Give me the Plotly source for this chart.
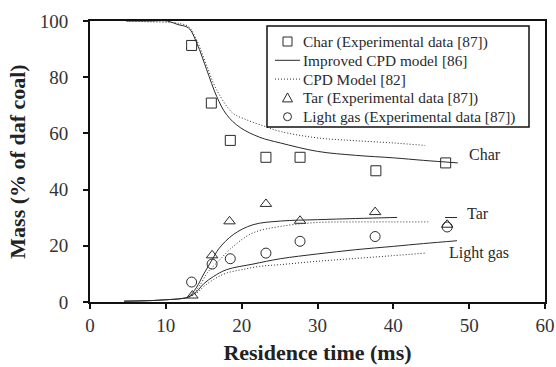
import plotly.graph_objects as go

# Experimental data
exp_x_char = [13.4, 16.0, 18.5, 23.2, 27.7, 37.7, 46.9]
exp_char = [91.3, 70.8, 57.5, 51.5, 51.5, 46.7, 49.5]
exp_x_tar = [13.5, 16.1, 18.4, 23.2, 27.7, 37.6, 47.1]
exp_tar = [2.3, 16.6, 28.7, 34.9, 28.9, 32.0, 27.5]
exp_x_gas = [13.4, 16.1, 18.5, 23.2, 27.7, 37.6, 47.1]
exp_gas = [7.1, 13.5, 15.4, 17.4, 21.6, 23.3, 26.7]

# Improved CPD model [86] (solid)
imp_x_char = [4.8, 8, 10.2, 11.5, 13, 14.1, 15.4, 16.7, 18, 19.8, 22.4, 25.1, 30, 35, 40, 44, 48.5]
imp_char = [100, 100, 100, 98.8, 97.5, 92, 82.6, 73.2, 66.7, 62.1, 58.6, 56.6, 53.6, 52.2, 51.3, 50.4, 49.5]
imp_x_tar = [4.5, 8, 10, 12, 13, 14, 15, 16.1, 17, 18.9, 21.5, 25.1, 30, 35, 40.5]
imp_tar = [0.3, 0.5, 0.8, 1.2, 1.8, 5, 10, 15, 19, 24, 27.5, 28.8, 29.3, 29.7, 30.1]
imp_x_gas = [4.5, 8, 10, 12, 13, 14, 15, 16.3, 18, 21.5, 25.1, 30, 35, 40, 44, 48.4]
imp_gas = [0.3, 0.5, 0.8, 1.2, 1.8, 3.5, 6.5, 9.1, 11.5, 13.5, 15.4, 17.1, 18.6, 19.8, 20.8, 21.8]

# CPD Model [82] (dotted)
cpd_x_char = [4.8, 8, 10.5, 12, 13, 14.1, 15.4, 16.7, 18.8, 20.5, 22.4, 25.1, 30, 35, 40, 44.2]
cpd_char = [100, 99.7, 99.5, 99, 98, 93, 84, 75.5, 67.3, 65, 63.1, 60.7, 58.4, 57.4, 56.6, 55.7]
cpd_x_tar = [12.7, 13.5, 14.5, 15.5, 16.7, 18.9, 21.5, 25.1, 30, 35, 40, 44.6]
cpd_tar = [1.5, 2.5, 6, 10.5, 13.9, 19.8, 24.6, 26.9, 28.3, 28.5, 28.5, 28.5]
cpd_x_gas = [12.7, 14, 15, 16.3, 18, 20, 22.4, 25.1, 30, 35, 40, 44.2]
cpd_gas = [1.5, 3, 5.5, 8, 10.3, 11.5, 12.7, 13.3, 14.5, 15.5, 16.5, 17.4]

x_ticks = [0, 10, 20, 30, 40, 50, 60]
y_ticks = [0, 20, 40, 60, 80, 100]

legend_labels = ["Char (Experimental data [87])", "Improved CPD model [86]", "CPD Model [82]",
                 "Tar (Experimental data [87])", "Light gas (Experimental data [87])"]
legend_kinds = ["square", "solid", "dot", "triangle", "circle"]

serif = "Liberation Serif, Times New Roman, serif"
ink = "#2a2a2a"
DOT = "1px,2px"

W, H = 556, 367
ML, MR, MT, MB = 90, 11, 21, 65
PW, PH = W - ML - MR, H - MT - MB


def px(x):
    return (x - ML) / PW


def py(y):
    return (H - MB - y) / PH


fig = go.Figure()

mk = dict(color=ink, size=10, line=dict(color=ink, width=1))
sol = dict(color=ink, width=1, shape="spline")
dot = dict(color=ink, width=1, dash=DOT, shape="spline")

fig.add_trace(go.Scatter(x=exp_x_char, y=exp_char, mode="markers", marker=dict(symbol="square-open", **mk)))
fig.add_trace(go.Scatter(x=imp_x_char, y=imp_char, mode="lines", line=sol))
fig.add_trace(go.Scatter(x=imp_x_tar, y=imp_tar, mode="lines", line=sol))
fig.add_trace(go.Scatter(x=imp_x_gas, y=imp_gas, mode="lines", line=sol))
fig.add_trace(go.Scatter(x=cpd_x_char, y=cpd_char, mode="lines", line=dot))
fig.add_trace(go.Scatter(x=cpd_x_tar, y=cpd_tar, mode="lines", line=dot))
fig.add_trace(go.Scatter(x=cpd_x_gas, y=cpd_gas, mode="lines", line=dot))
fig.add_trace(go.Scatter(x=exp_x_tar, y=exp_tar, mode="markers", marker=dict(symbol="triangle-up-open", **mk)))
fig.add_trace(go.Scatter(x=exp_x_gas, y=exp_gas, mode="markers", marker=dict(symbol="circle-open", **mk)))

# curve labels
labels = [("Char", 49.7, 52.4), ("Tar", 49.5, 31.5), ("Light gas", 47.1, 17.6)]
for txt, lx, ly in labels:
    fig.add_annotation(x=lx, y=ly, text=txt, showarrow=False, xanchor="left", yanchor="middle",
                       font=dict(family=serif, size=16, color=ink))

shapes = []
# Tar leader dash
shapes.append(dict(type="line", xref="paper", yref="paper", x0=px(445), x1=px(457), y0=py(217.5), y1=py(217.5),
                   line=dict(color=ink, width=1)))

# manual legend box
LB_L, LB_R, LB_T, LB_B = 267, 529, 26, 127
shapes.append(dict(type="rect", xref="paper", yref="paper", x0=px(LB_L), x1=px(LB_R), y0=py(LB_B), y1=py(LB_T),
                   line=dict(color="#111", width=1.5), fillcolor="white", layer="above"))
row0, rstep = 41.5, 18.8
sx = 287.5
for i, (lab, kind) in enumerate(zip(legend_labels, legend_kinds)):
    yc = row0 + rstep * i
    if kind == "square":
        shapes.append(dict(type="rect", xref="paper", yref="paper", x0=px(sx - 4.5), x1=px(sx + 4.5),
                           y0=py(yc + 4.5), y1=py(yc - 4.5), line=dict(color=ink, width=1), layer="above"))
    elif kind == "circle":
        shapes.append(dict(type="circle", xref="paper", yref="paper", x0=px(sx - 4), x1=px(sx + 4),
                           y0=py(yc + 4), y1=py(yc - 4), line=dict(color=ink, width=1), layer="above"))
    elif kind == "triangle":
        path = "M {a},{b} L {c},{d} L {e},{f} Z".format(
            a=px(sx - 5), b=py(yc + 4), c=px(sx + 5), d=py(yc + 4), e=px(sx), f=py(yc - 5))
        shapes.append(dict(type="path", xref="paper", yref="paper", path=path,
                           line=dict(color=ink, width=1), layer="above"))
    else:
        shapes.append(dict(type="line", xref="paper", yref="paper", x0=px(275), x1=px(300),
                           y0=py(yc), y1=py(yc),
                           line=dict(color=ink, width=1, dash=("solid" if kind == "solid" else DOT)),
                           layer="above"))
    fig.add_annotation(xref="paper", yref="paper", x=px(301), y=py(yc), text=lab, showarrow=False,
                       xanchor="left", yanchor="middle", font=dict(family=serif, size=15.3, color=ink))

axis_common = dict(showgrid=False, zeroline=False, showline=True, linecolor="#111", linewidth=2,
                   mirror=True, ticks="outside", ticklen=5, tickwidth=1.5, tickcolor="#111",
                   automargin=False,
                   tickfont=dict(family=serif, size=19, color="#333"))

fig.update_layout(
    width=W, height=H,
    margin=dict(l=ML, r=MR, t=MT, b=MB),
    paper_bgcolor="white", plot_bgcolor="white",
    showlegend=False,
    shapes=shapes,
    xaxis=dict(range=[0, 60], tickvals=x_ticks,
               title=dict(text="<b>Residence time (ms)</b>", font=dict(family=serif, size=22, color="#222"), standoff=10),
               **axis_common),
    yaxis=dict(range=[0, 100], tickvals=y_ticks, ticklabelstandoff=11,
               title=dict(text="<b>Mass (% of daf coal)</b>", font=dict(family=serif, size=22, color="#222"), standoff=8),
               **axis_common),
)

fig.write_html("out.html")
